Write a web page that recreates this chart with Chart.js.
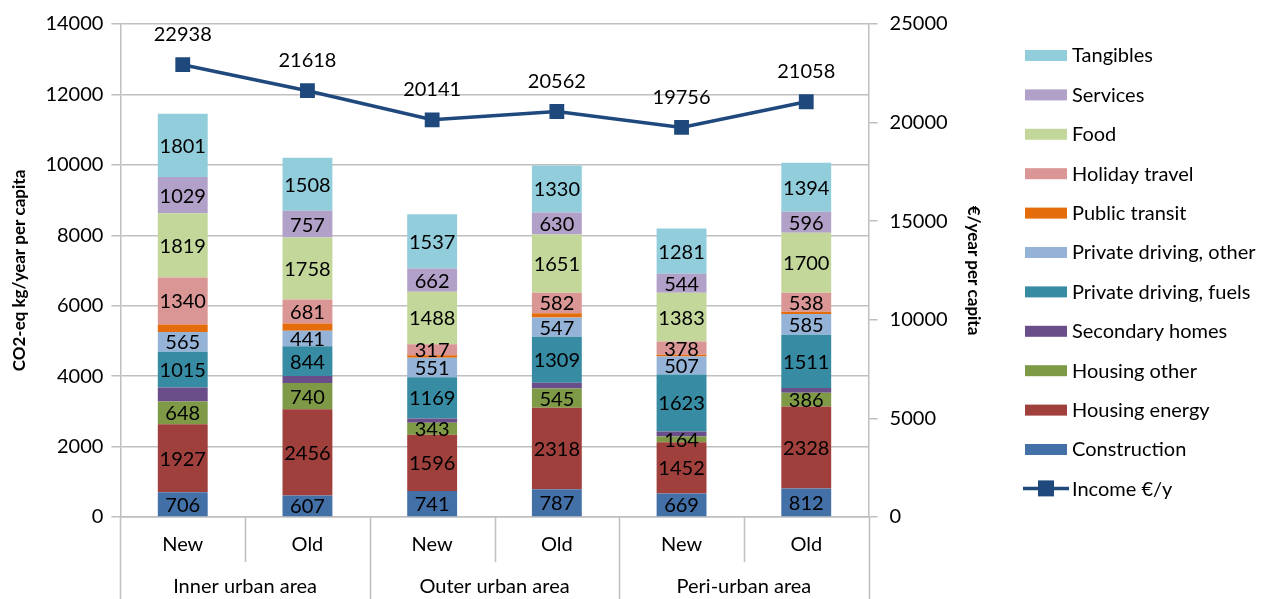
<!DOCTYPE html>
<html>
<head>
<meta charset="utf-8">
<script src="https://cdn.jsdelivr.net/npm/chart.js@4/dist/chart.umd.min.js"></script>
<style>
  html, body { margin: 0; padding: 0; background: #fff; }
  #wrap { width: 1264px; height: 599px; position: relative; }
</style>
</head>
<body>
<div id="wrap"><canvas id="chart"></canvas></div>
<script>
// categories
const categories = ['New', 'Old', 'New', 'Old', 'New', 'Old'];
const groups = ['Inner urban area', 'Outer urban area', 'Peri-urban area'];

// CO2-eq kg/year per capita
const construction   = [706, 607, 741, 787, 669, 812];
const housingEnergy  = [1927, 2456, 1596, 2318, 1452, 2328];
const housingOther   = [648, 740, 343, 545, 164, 386];
const secondaryHomes = [396, 200, 120, 160, 140, 140];   // unlabelled, estimated
const drivingFuels   = [1015, 844, 1169, 1309, 1623, 1511];
const drivingOther   = [565, 441, 551, 547, 507, 585];
const publicTransit  = [207, 210, 70, 120, 50, 70];      // unlabelled, estimated
const holidayTravel  = [1340, 681, 317, 582, 378, 538];
const food           = [1819, 1758, 1488, 1651, 1383, 1700];
const services       = [1029, 757, 662, 630, 544, 596];
const tangibles      = [1801, 1508, 1537, 1330, 1281, 1394];

// €/year per capita
const income = [22938, 21618, 20141, 20562, 19756, 21058];

// axis ranges
const leftMax = 14000, leftStep = 2000;
const rightMax = 25000, rightStep = 5000;

const FONT = 'Lato, "Open Sans", sans-serif';
const GRID = '#BFBFBF';
const FS = 20;

function bar(label, data, color, showLabels) {
  return { type: 'bar', label, data, backgroundColor: color, borderWidth: 0, order: 1,
           yAxisID: 'y', stack: 's', showLabels, barPercentage: 0.4, categoryPercentage: 1 };
}

const datasets = [
  { type: 'line', label: 'Income €/y', data: income, yAxisID: 'y1',
    borderColor: '#1F497D', backgroundColor: '#1F497D', borderWidth: 3.5,
    pointStyle: 'rect', pointRadius: 8, pointHoverRadius: 8, tension: 0, order: 0, showLabels: true },
  bar('Construction', construction, '#4470A8', true),
  bar('Housing energy', housingEnergy, '#A0403D', true),
  bar('Housing other', housingOther, '#7E9A47', true),
  bar('Secondary homes', secondaryHomes, '#6A4E8A', false),
  bar('Private driving, fuels', drivingFuels, '#378BA3', true),
  bar('Private driving, other', drivingOther, '#95B3D7', true),
  bar('Public transit', publicTransit, '#E46C0A', false),
  bar('Holiday travel', holidayTravel, '#DA9694', true),
  bar('Food', food, '#C4D79B', true),
  bar('Services', services, '#B1A0C7', true),
  bar('Tangibles', tangibles, '#92CDDC', true)
];

const labelPlugin = {
  id: 'labels',
  afterDatasetsDraw(chart) {
    const ctx = chart.ctx;
    ctx.save();
    ctx.font = FS + 'px ' + FONT;
    ctx.fillStyle = '#000';
    ctx.textAlign = 'center';
    ctx.textBaseline = 'middle';
    chart.data.datasets.forEach((ds, di) => {
      if (!ds.showLabels) return;
      const meta = chart.getDatasetMeta(di);
      meta.data.forEach((el, i) => {
        if (ds.type === 'bar') {
          ctx.fillText(String(ds.data[i]), el.x, (el.y + el.base) / 2 + 1);
        } else {
          ctx.fillText(String(ds.data[i]), el.x, el.y - 30);
        }
      });
    });
    ctx.restore();
  }
};

const axisPlugin = {
  id: 'multiAxis',
  afterDraw(chart) {
    const ctx = chart.ctx;
    const x = chart.scales.x;
    const area = chart.chartArea;
    const half = (x.getPixelForValue(1) - x.getPixelForValue(0)) / 2;
    ctx.save();
    ctx.strokeStyle = GRID;
    ctx.lineWidth = 1.5;
    for (let i = 0; i <= categories.length; i++) {
      const px = Math.round(x.getPixelForValue(0) - half + i * 2 * half) + 0.5;
      const bottom = (i % 2 === 0) ? chart.height : area.bottom + 45;
      ctx.beginPath();
      ctx.moveTo(px, area.bottom);
      ctx.lineTo(px, bottom);
      ctx.stroke();
    }
    ctx.font = FS + 'px ' + FONT;
    ctx.fillStyle = '#000';
    ctx.textAlign = 'center';
    ctx.textBaseline = 'middle';
    groups.forEach((g, gi) => {
      const cx = (x.getPixelForValue(gi * 2) + x.getPixelForValue(gi * 2 + 1)) / 2;
      ctx.fillText(g, cx, area.bottom + 70);
    });

    // legend
    const items = chart.data.datasets.filter(d => d.type === 'bar').slice().reverse();
    let ly = 55;
    const step = 39.4;
    ctx.textAlign = 'left';
    items.forEach(d => {
      ctx.fillStyle = d.backgroundColor;
      ctx.fillRect(1025, ly - 5, 42, 11);
      ctx.fillStyle = '#000';
      ctx.fillText(d.label, 1072, ly + 1);
      ly += step;
    });
    const inc = chart.data.datasets[0];
    ctx.strokeStyle = inc.borderColor;
    ctx.lineWidth = 3.5;
    ctx.beginPath();
    ctx.moveTo(1023, ly);
    ctx.lineTo(1069, ly);
    ctx.stroke();
    ctx.fillStyle = inc.borderColor;
    ctx.fillRect(1038, ly - 8, 16, 16);
    ctx.fillStyle = '#000';
    ctx.fillText(inc.label, 1072, ly + 1);
    ctx.restore();
  }
};

new Chart(document.getElementById('chart'), {
  data: { labels: categories, datasets },
  options: {
    responsive: true,
    maintainAspectRatio: false,
    animation: false,
    layout: { padding: { top: 13, right: 264, bottom: 26, left: 7 } },
    plugins: { legend: { display: false }, tooltip: { enabled: false } },
    scales: {
      x: {
        stacked: true,
        grid: { display: false, drawTicks: false },
        border: { display: true, color: GRID, width: 1.5 },
        ticks: { color: '#000', font: { size: FS, family: FONT }, padding: 16 }
      },
      y: {
        stacked: true,
        min: 0, max: leftMax,
        ticks: { stepSize: leftStep, color: '#000', font: { size: FS, family: FONT }, padding: 8,
                 callback: v => String(v) },
        grid: { color: GRID, lineWidth: 1.5, tickLength: 9 },
        border: { display: true, color: GRID, width: 1.5 },
        title: { display: true, text: 'CO2-eq kg/year per capita', color: '#000',
                 font: { size: 17, weight: 'bold', family: FONT }, padding: { top: 2, bottom: 8 } }
      },
      y1: {
        position: 'right',
        min: 0, max: rightMax,
        ticks: { stepSize: rightStep, color: '#000', font: { size: FS, family: FONT }, padding: 12,
                 callback: v => String(v) },
        grid: { drawOnChartArea: false, color: GRID, lineWidth: 1.5, tickLength: 9 },
        border: { display: true, color: GRID, width: 1.5 },
        title: { display: true, text: '€/year per capita', color: '#000',
                 font: { size: 17, weight: 'bold', family: FONT }, padding: { top: 16 } }
      }
    }
  },
  plugins: [labelPlugin, axisPlugin]
});
</script>
</body>
</html>
